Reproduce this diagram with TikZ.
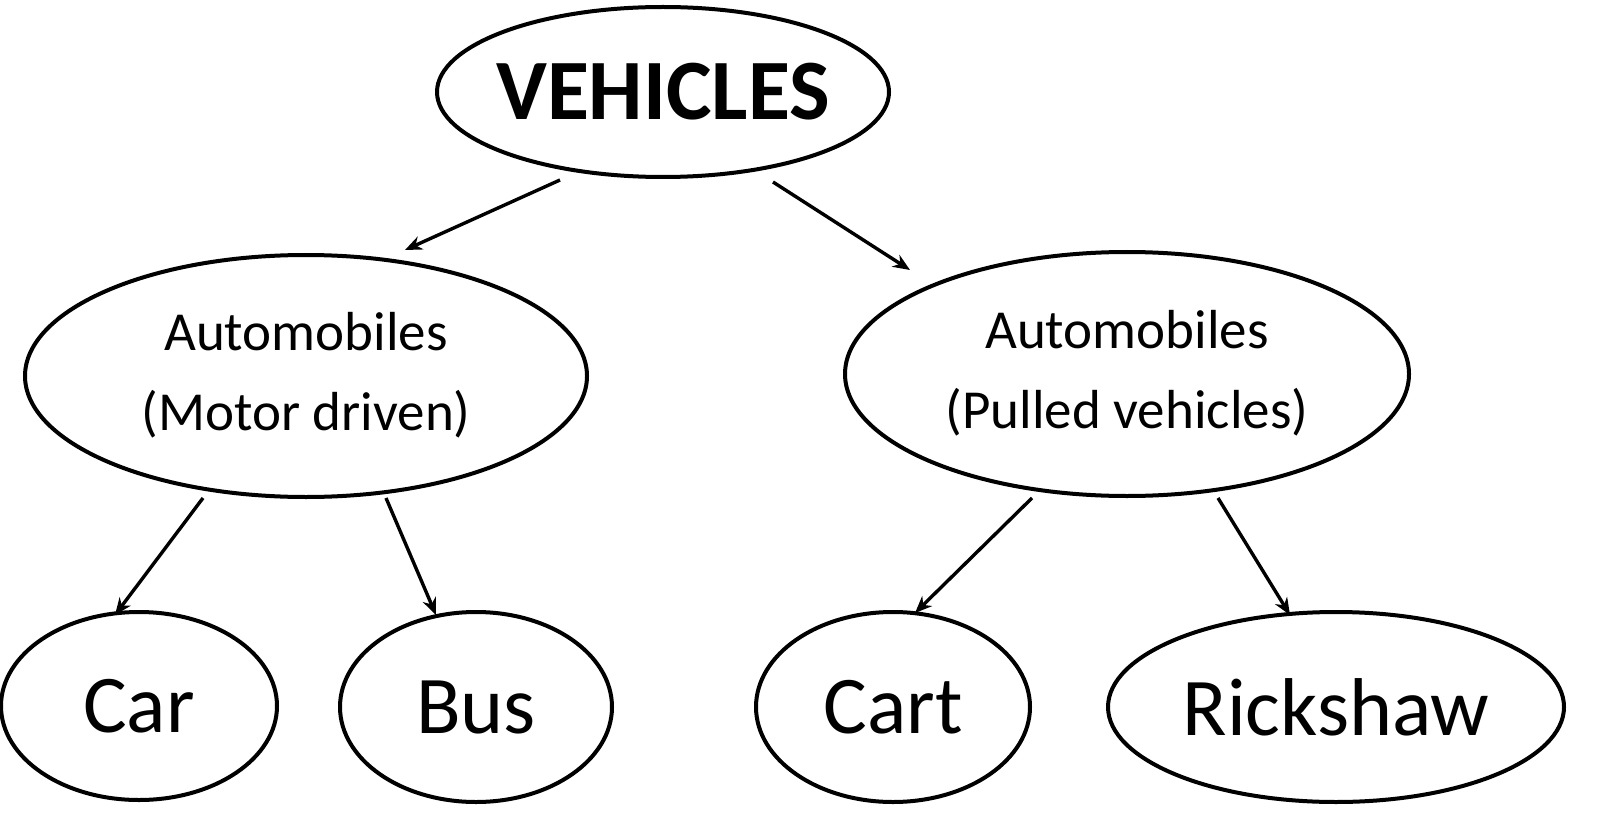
\documentclass[tikz,border=0pt]{standalone}
\usepackage{fontspec}
\setmainfont{Carlito}
\usetikzlibrary{shapes.geometric,arrows.meta}
\begin{document}
\begin{tikzpicture}[x=1pt,y=-1pt,
  el/.style={draw,ellipse,line width=4pt,inner sep=0pt},
  ar/.style={line width=3.4pt,-{Stealth[length=17pt,width=14pt]}}]
\node[el,minimum width=452pt,minimum height=170pt] (v) at (663,92)
  {\makebox[0pt]{\fontsize{86}{90}\selectfont\bfseries VEHICLES}};
\node[el,minimum width=562pt,minimum height=242pt] (l) at (306,376)
  {\makebox[0pt]{\fontsize{55}{72}\selectfont\begin{tabular}{c}Automobiles\\[8pt](Motor driven)\end{tabular}}};
\node[el,minimum width=564pt,minimum height=244pt] (r) at (1127,374)
  {\makebox[0pt]{\fontsize{55}{72}\selectfont\begin{tabular}{c}Automobiles\\[8pt](Pulled vehicles)\end{tabular}}};
\node[el,minimum width=276pt,minimum height=188pt] (car) at (139,706) {\makebox[0pt]{\fontsize{82}{90}\selectfont Car}};
\node[el,minimum width=272pt,minimum height=190pt] (bus) at (476,707) {\makebox[0pt]{\fontsize{82}{90}\selectfont Bus}};
\node[el,minimum width=274pt,minimum height=190pt] (cart) at (893,707) {\makebox[0pt]{\fontsize{82}{90}\selectfont Cart}};
\node[el,minimum width=456pt,minimum height=190pt] (rick) at (1336,707) {\makebox[0pt]{\fontsize{82}{90}\selectfont Rickshaw}};
\coordinate (a1) at (560,180); \coordinate (b1) at (405,250);
\coordinate (a2) at (773,182); \coordinate (b2) at (910,270);
\coordinate (a3) at (203,498); \coordinate (b3) at (115,615);
\coordinate (a4) at (386,498); \coordinate (b4) at (436,615);
\coordinate (a5) at (1032,498); \coordinate (b5) at (915,613);
\coordinate (a6) at (1218,498); \coordinate (b6) at (1290,615);
\foreach \i in {1,...,6} \draw[ar] (a\i) -- (b\i);
\pgfresetboundingbox
\useasboundingbox (0,0) rectangle (1600,834);
\end{tikzpicture}
\end{document}
